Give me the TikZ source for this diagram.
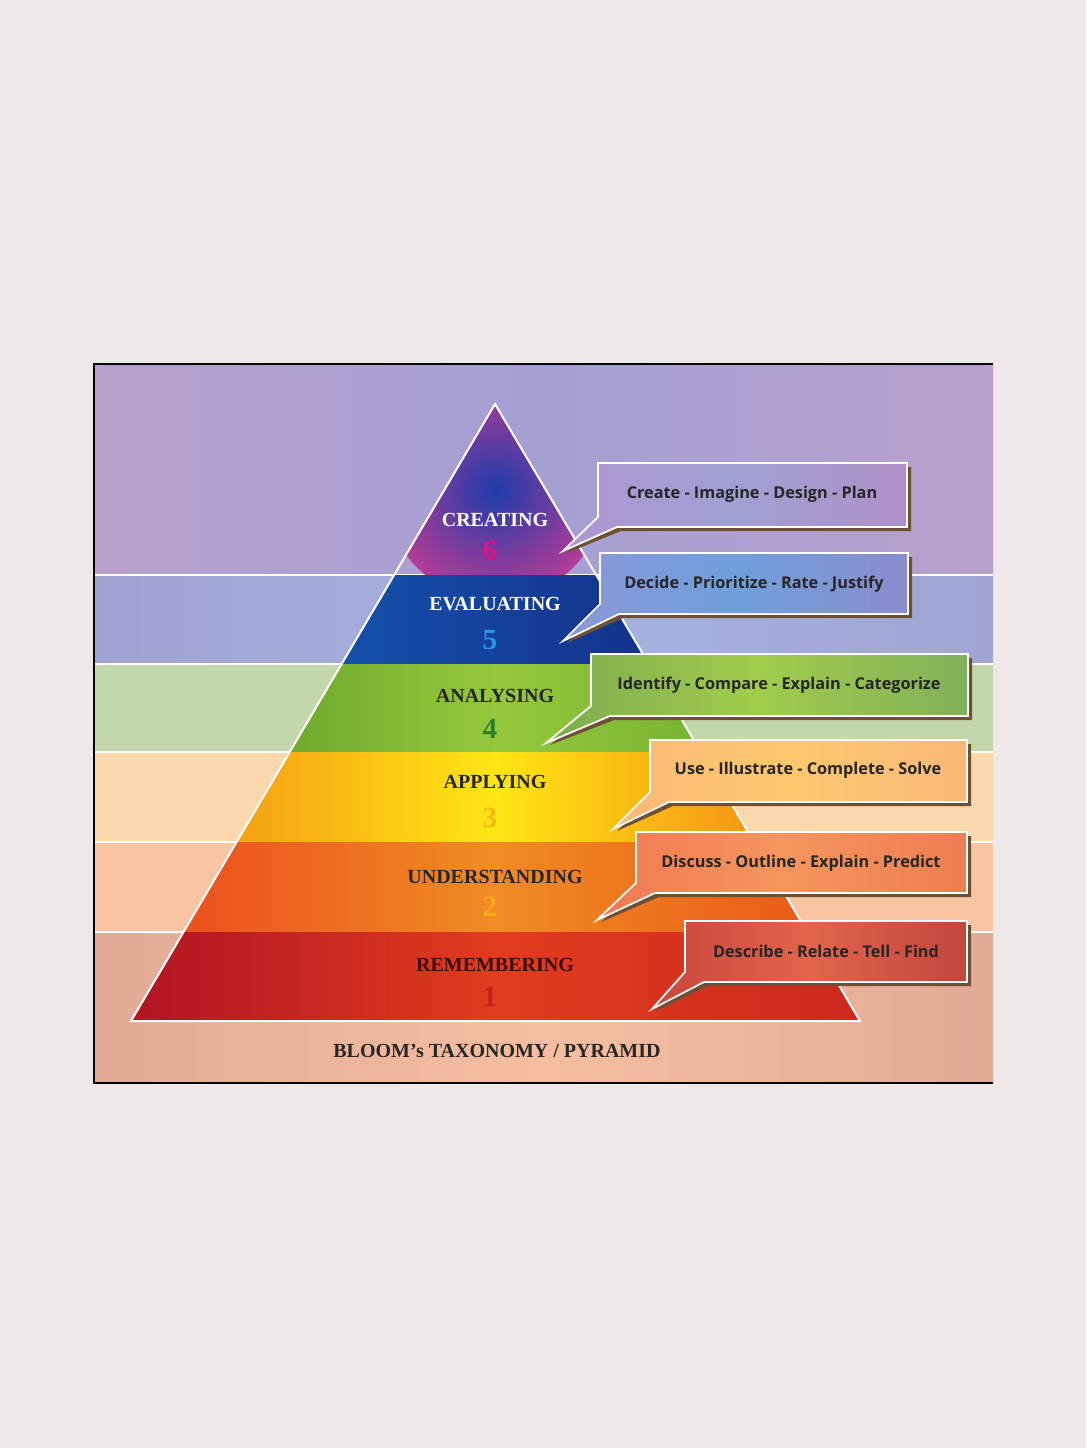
\documentclass[tikz,border=0pt]{standalone}
\usepackage{fontspec}
\setmainfont{Liberation Serif}
\newfontfamily\callfont{Open Sans}
\definecolor{shd}{RGB}{110,80,50}
\definecolor{a6}{RGB}{175,150,210}\definecolor{b6}{RGB}{160,160,210}\definecolor{c6}{RGB}{175,145,200}
\definecolor{a5}{RGB}{140,150,215}\definecolor{b5}{RGB}{110,160,220}\definecolor{c5}{RGB}{140,140,205}
\definecolor{a4}{RGB}{125,170,80}\definecolor{b4}{RGB}{160,205,75}\definecolor{c4}{RGB}{130,175,90}
\definecolor{a3}{RGB}{250,185,120}\definecolor{b3}{RGB}{252,200,110}\definecolor{c3}{RGB}{248,185,120}
\definecolor{a2}{RGB}{240,120,80}\definecolor{b2}{RGB}{245,150,95}\definecolor{c2}{RGB}{238,125,80}
\definecolor{a1}{RGB}{200,70,60}\definecolor{b1}{RGB}{225,100,75}\definecolor{c1}{RGB}{195,70,60}
\begin{document}
\begin{tikzpicture}[x=0.75pt,y=-0.75pt,
  lbl/.style={font=\bfseries\fontsize{15}{15}\selectfont},
  num/.style={font=\bfseries\fontsize{22}{22}\selectfont},
  ctext/.style={font=\callfont\bfseries\fontsize{12.2}{12}\selectfont,text=black!85},
  cbox/.style={draw=white,line width=1.3pt}]
\definecolor{pg}{RGB}{238,232,232}
\fill[pg] (0,0) rectangle (1086,1448);
\useasboundingbox (0,0) rectangle (1086,1448);
% background bands
\shade[left color={rgb,255:red,185;green,160;blue,205},right color={rgb,255:red,185;green,160;blue,205},middle color={rgb,255:red,165;green,160;blue,210}] (94,364) rectangle (993,575);
\shade[left color={rgb,255:red,160;green,162;blue,210},right color={rgb,255:red,160;green,165;blue,212},middle color={rgb,255:red,165;green,180;blue,225}] (94,575) rectangle (993,664);
\fill[fill={rgb,255:red,195;green,216;blue,170}] (94,664) rectangle (993,752);
\fill[fill={rgb,255:red,250;green,216;blue,172}] (94,752) rectangle (993,842);
\fill[fill={rgb,255:red,248;green,196;blue,162}] (94,842) rectangle (993,932);
\shade[left color={rgb,255:red,225;green,170;blue,150},right color={rgb,255:red,225;green,170;blue,150},middle color={rgb,255:red,245;green,190;blue,160}] (94,932) rectangle (993,1083);
\foreach \y in {575,664,752,842,932}{\draw[white,line width=1.5pt] (94,\y) -- (993,\y);}
\draw[black,line width=0.8pt] (993,364) -- (94,364) -- (94,1083) -- (993,1083);
% pyramid layers
\coordinate (apex) at (495,404);
\begin{scope}
\clip (495,404) -- (596,575) -- (394,575) -- cycle;
\shade[inner color={rgb,255:red,30;green,60;blue,170},outer color={rgb,255:red,180;green,60;blue,150}] (495,490) circle (110);
\end{scope}
\shade[left color={rgb,255:red,20;green,80;blue,170},right color={rgb,255:red,20;green,50;blue,140}] (394,575) -- (596,575) -- (648,664) -- (342,664) -- cycle;
\shade[left color={rgb,255:red,110;green,170;blue,45},right color={rgb,255:red,120;green,180;blue,50},middle color={rgb,255:red,150;green,200;blue,60}] (342,664) -- (648,664) -- (700,752) -- (290,752) -- cycle;
\shade[left color={rgb,255:red,245;green,160;blue,20},right color={rgb,255:red,245;green,150;blue,20},middle color={rgb,255:red,255;green,230;blue,20}] (290,752) -- (700,752) -- (753,842) -- (237,842) -- cycle;
\shade[left color={rgb,255:red,235;green,80;blue,30},right color={rgb,255:red,235;green,90;blue,25},middle color={rgb,255:red,240;green,140;blue,35}] (237,842) -- (753,842) -- (806,932) -- (184,932) -- cycle;
\shade[left color={rgb,255:red,175;green,20;blue,35},right color={rgb,255:red,205;green,40;blue,30},middle color={rgb,255:red,225;green,60;blue,30}] (184,932) -- (806,932) -- (860,1021) -- (131,1021) -- cycle;
\draw[white,line width=1.5pt] (495,404) -- (860,1021) -- (131,1021) -- cycle;
% labels
\node[lbl,text=white] (l6) at (495,520) {CREATING};
\node[num,text={rgb,255:red,220;green,20;blue,130}] (n6) at (490,551) {6};
\node[lbl,text=white] (l5) at (495,604) {EVALUATING};
\node[num,text={rgb,255:red,40;green,150;blue,230}] (n5) at (490,640) {5};
\node[lbl,text=black!85] (l4) at (495,696) {ANALYSING};
\node[num,text={rgb,255:red,40;green,130;blue,40}] (n4) at (490,729) {4};
\node[lbl,text=black!85] (l3) at (495,782) {APPLYING};
\node[num,text={rgb,255:red,250;green,180;blue,20}] (n3) at (490,818) {3};
\node[lbl,text=black!85] (l2) at (495,877) {UNDERSTANDING};
\node[num,text={rgb,255:red,250;green,170;blue,30}] (n2) at (490,907) {2};
\node[lbl,text={rgb,255:red,60;green,10;blue,10}] (l1) at (495,965) {REMEMBERING};
\node[num,text={rgb,255:red,200;green,30;blue,30}] (n1) at (490,997) {1};
\node[lbl,text=black!85] (title) at (497,1051) {BLOOM's TAXONOMY / PYRAMID};
% callouts
\newcommand{\callout}[7]{%
  \fill[shd] (#1+4,#2+4) -- (#3+4,#2+4) -- (#3+4,#4+4) -- (#1+23,#4+4) -- (#5+4,#6+2) -- (#1+4,#4-6) -- cycle;
  \shade[cbox,left color=a#7,right color=c#7,middle color=b#7] (#1,#2) -- (#3,#2) -- (#3,#4) -- (#1+19,#4) -- (#5,#6) -- (#1,#4-10) -- cycle;}
\callout{598}{463}{907}{527}{563}{551}{6}
\node[ctext] (c6) at (752,494) {Create - Imagine - Design - Plan};
\callout{600}{553}{908}{614}{563}{641}{5}
\node[ctext] (c5) at (754,584) {Decide - Prioritize - Rate - Justify};
\callout{591}{654}{968}{716}{546}{743}{4}
\node[ctext] (c4) at (779,685) {Identify - Compare - Explain - Categorize};
\callout{650}{740}{967}{802}{613}{829}{3}
\node[ctext] (c3) at (808,770) {Use - Illustrate - Complete - Solve};
\callout{636}{832}{967}{893}{597}{920}{2}
\node[ctext] (c2) at (801,863) {Discuss - Outline - Explain - Predict};
\callout{685}{921}{967}{982}{652}{1009}{1}
\node[ctext] (c1) at (826,951) {Describe - Relate - Tell - Find};
\end{tikzpicture}
\end{document}
